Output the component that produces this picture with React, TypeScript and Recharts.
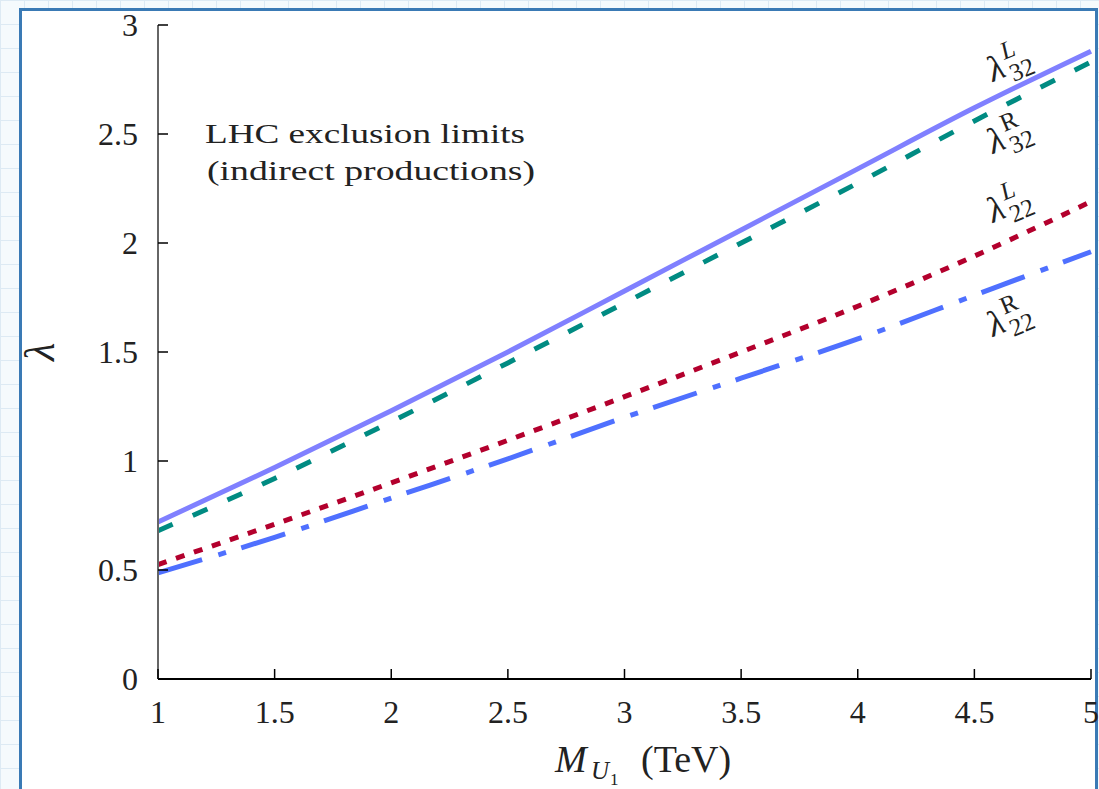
import { LineChart, Line, XAxis, YAxis, ReferenceDot } from 'recharts'

// M_U1 in TeV
const masses = [1, 1.5, 2, 2.5, 3, 3.5, 4, 4.5, 5]
const lam32L = [0.72, 0.97, 1.23, 1.5, 1.78, 2.06, 2.34, 2.62, 2.88]
const lam32R = [0.68, 0.92, 1.18, 1.45, 1.725, 2.0, 2.275, 2.56, 2.83]
const lam22L = [0.525, 0.71, 0.9, 1.095, 1.295, 1.5, 1.71, 1.94, 2.19]
const lam22R = [0.487, 0.65, 0.83, 1.01, 1.2, 1.38, 1.56, 1.76, 1.96]

const xTicks = [1, 1.5, 2, 2.5, 3, 3.5, 4, 4.5, 5]
const yTicks = [0, 0.5, 1, 1.5, 2, 2.5, 3]

const data = masses.map((m, i) => ({
  m,
  l32L: lam32L[i],
  l32R: lam32R[i],
  l22L: lam22L[i],
  l22R: lam22R[i],
}))

// curve labels: anchor in data coords
const curveLabels = [
  { x: 4.58, y: 2.738, sup: 'L', supItalic: true, sub: '32' },
  { x: 4.58, y: 2.408, sup: 'R', supItalic: false, sub: '32' },
  { x: 4.58, y: 2.092, sup: 'L', supItalic: true, sub: '22' },
  { x: 4.58, y: 1.569, sup: 'R', supItalic: false, sub: '22' },
]

const W = 1099
const H = 789
const FONT = '"Liberation Serif", "DejaVu Serif", serif'

const BottomTick = ({ x, y, payload }: any) => (
  <g>
    <line x1={x} y1={y} x2={x} y2={y - 10} stroke="#000" strokeWidth={1.5} />
    <text x={x} y={y + 44} textAnchor="middle" fontSize={32} fontFamily={FONT} fill="#222">
      {payload.value}
    </text>
  </g>
)

const TopTick = ({ x, y }: any) => (
  <line x1={x} y1={y} x2={x} y2={y + 10} stroke="#000" strokeWidth={1.5} />
)

const LeftTick = ({ x, y, payload }: any) => (
  <g>
    <line x1={x} y1={y} x2={x + 10} y2={y} stroke="#000" strokeWidth={1.5} />
    <text x={x - 20} y={y + 11} textAnchor="end" fontSize={32} fontFamily={FONT} fill="#222">
      {payload.value}
    </text>
  </g>
)

const RightTick = ({ x, y }: any) => (
  <line x1={x} y1={y} x2={x - 10} y2={y} stroke="#000" strokeWidth={1.5} />
)

const CurveLabel = ({ cx, cy, sup, supItalic, sub }: any) => (
  <g transform={`translate(${cx},${cy}) rotate(-23)`} fontFamily={FONT} fill="#222">
    <text x={0} y={0} fontSize={36} fontStyle="italic">λ</text>
    <text x={19} y={-16} fontSize={25} fontStyle={supItalic ? 'italic' : 'normal'}>{sup}</text>
    <text x={19} y={8} fontSize={25}>{sub}</text>
  </g>
)

export default function App() {
  return (
    <div
      style={{
        position: 'absolute',
        left: 0,
        top: 0,
        width: W,
        height: H,
        backgroundColor: '#f5fafd',
        backgroundImage:
          'linear-gradient(#ddeaf4 1px, transparent 1px), linear-gradient(90deg, #ddeaf4 1px, transparent 1px)',
        backgroundSize: '24px 24px',
      }}
    >
      <div
        style={{
          position: 'absolute',
          left: 19,
          top: 8,
          width: 1079,
          height: 784,
          border: '3px solid #3a7ab5',
          boxSizing: 'border-box',
          background: '#fff',
        }}
      />
      <div style={{ position: 'absolute', left: 0, top: 0 }}>
        <LineChart width={W} height={H} data={data} margin={{ top: 25, right: 8, left: 98, bottom: 60 }}>
          <XAxis
            dataKey="m"
            type="number"
            domain={[1, 5]}
            ticks={xTicks}
            interval={0}
            height={50}
            tickSize={0}
            tickMargin={0}
            tickLine={false}
            axisLine={{ stroke: '#000', strokeWidth: 2 }}
            tick={<BottomTick />}
          />
          <XAxis
            xAxisId="top"
            orientation="top"
            dataKey="m"
            type="number"
            domain={[1, 5]}
            ticks={xTicks.slice(1, -1)}
            interval={0}
            height={0}
            tickSize={0}
            tickMargin={0}
            tickLine={false}
            axisLine={{ stroke: '#000', strokeWidth: 2 }}
            tick={<TopTick />}
          />
          <YAxis
            type="number"
            domain={[0, 3]}
            ticks={yTicks}
            interval={0}
            width={60}
            tickSize={0}
            tickMargin={0}
            tickLine={false}
            axisLine={{ stroke: '#666', strokeWidth: 2 }}
            tick={<LeftTick />}
          />
          <YAxis
            yAxisId="right"
            orientation="right"
            type="number"
            domain={[0, 3]}
            ticks={yTicks.slice(1, -1)}
            interval={0}
            width={0}
            tickSize={0}
            tickMargin={0}
            tickLine={false}
            axisLine={{ stroke: '#000', strokeWidth: 2 }}
            tick={<RightTick />}
          />
          <Line
            dataKey="l32L"
            type="monotone"
            stroke="#8080ff"
            strokeWidth={5}
            dot={false}
            isAnimationActive={false}
          />
          <Line
            dataKey="l32R"
            type="monotone"
            stroke="#008b82"
            strokeWidth={5}
            strokeDasharray="16 22"
            dot={false}
            isAnimationActive={false}
          />
          <Line
            dataKey="l22L"
            type="monotone"
            stroke="#b3002d"
            strokeWidth={5}
            strokeDasharray="9 10"
            dot={false}
            isAnimationActive={false}
          />
          <Line
            dataKey="l22R"
            type="monotone"
            stroke="#4f70ff"
            strokeWidth={5}
            strokeDasharray="46 17 8 16"
            dot={false}
            isAnimationActive={false}
          />
          {curveLabels.map((c, i) => (
            <ReferenceDot
              key={i}
              x={c.x}
              y={c.y}
              r={0}
              ifOverflow="visible"
              shape={(p: any) => <CurveLabel cx={p.cx} cy={p.cy} sup={c.sup} supItalic={c.supItalic} sub={c.sub} />}
            />
          ))}
        </LineChart>
      </div>
      <svg
        width={W}
        height={H}
        style={{ position: 'absolute', left: 0, top: 0, pointerEvents: 'none' }}
        fontFamily={FONT}
        fill="#222"
      >
        <text x={205} y={143} fontSize={28} textLength={320} lengthAdjust="spacingAndGlyphs">
          LHC exclusion limits
        </text>
        <text x={207} y={180} fontSize={28} textLength={328} lengthAdjust="spacingAndGlyphs">
          (indirect productions)
        </text>
        <text x={54} y={352} fontSize={42} fontStyle="italic" textAnchor="middle" transform="rotate(-90 54 352)">
          λ
        </text>
        <text x={555} y={772} fontSize={38} fontStyle="italic">M</text>
        <text x={591} y={779} fontSize={25} fontStyle="italic">U</text>
        <text x={610} y={785} fontSize={17}>1</text>
        <text x={641} y={772} fontSize={38}>(TeV)</text>
      </svg>
    </div>
  )
}
